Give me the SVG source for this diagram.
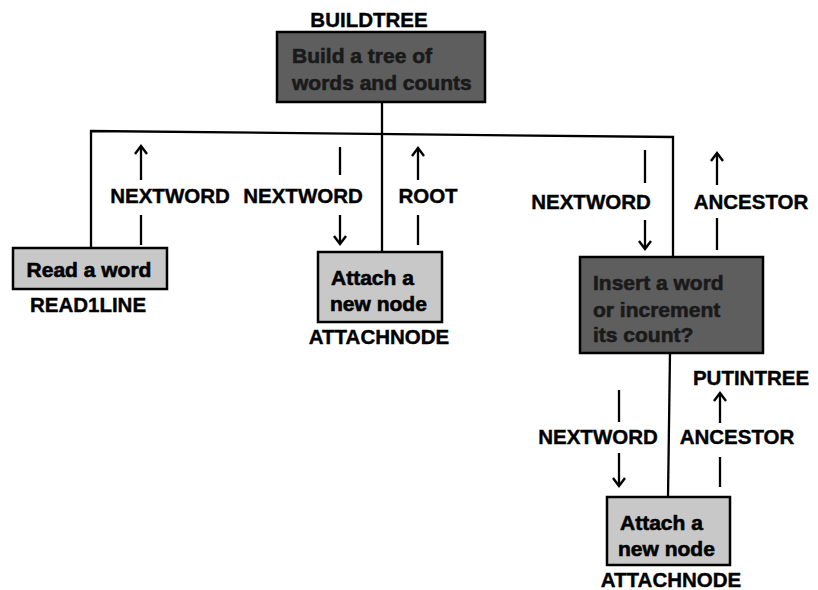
<svg xmlns="http://www.w3.org/2000/svg" width="818" height="590" viewBox="0 0 818 590">
<defs>
<marker id="ah" viewBox="-10 -8 12 16" markerWidth="12" markerHeight="16" refX="0" refY="0" orient="auto" markerUnits="userSpaceOnUse">
<path d="M-8,-6 L0,0 L-8,6" fill="none" stroke="#000" stroke-width="2.4"/>
</marker>
<style>
.lbl{font-family:"Liberation Sans",Arial,sans-serif;font-weight:bold;font-size:20.5px;fill:#000;stroke:#000;stroke-width:0.4}
.bt{font-family:"Liberation Sans",Arial,sans-serif;font-weight:bold;font-size:21px;stroke-width:0.6}
.light rect{fill:#c8c8c8;stroke:#000;stroke-width:2.5}
.dark rect{fill:#5e5e5e;stroke:#000;stroke-width:2.5}
.light .bt{fill:#000;stroke:#000}
.dark .bt{fill:#1a1a1a;stroke:#1a1a1a}
.ln{stroke:#000;stroke-width:2.3;fill:none}
.ar{stroke:#000;stroke-width:2.3;fill:none;marker-end:url(#ah)}
</style>
</defs>
<rect width="818" height="590" fill="#fff"/>
<g id="connectors">
<path class="ln" d="M91,248 L91,131 L673,137 L673,257"/>
<path class="ln" d="M382,102 L382,252"/>
<path class="ln" d="M670,353 L668,497"/>
<line class="ar" x1="141" y1="180" x2="141" y2="146"/>
<line class="ln" x1="141" y1="215" x2="141" y2="245"/>
<line class="ln" x1="340" y1="147" x2="340" y2="175"/>
<line class="ar" x1="340" y1="215" x2="340" y2="244"/>
<line class="ar" x1="418" y1="180" x2="418" y2="148"/>
<line class="ln" x1="418" y1="215" x2="418" y2="245"/>
<line class="ln" x1="645" y1="150" x2="645" y2="183"/>
<line class="ar" x1="645" y1="220" x2="645" y2="249"/>
<line class="ar" x1="717" y1="185" x2="717" y2="153"/>
<line class="ln" x1="717" y1="218" x2="717" y2="250"/>
<line class="ln" x1="619" y1="390" x2="619" y2="422"/>
<line class="ar" x1="619" y1="453" x2="619" y2="486"/>
<line class="ar" x1="720" y1="423" x2="720" y2="393"/>
<line class="ln" x1="720" y1="457" x2="720" y2="487"/>
<text class="lbl" x="170" y="203" text-anchor="middle">NEXTWORD</text>
<text class="lbl" x="303" y="203" text-anchor="middle">NEXTWORD</text>
<text class="lbl" x="428" y="203" text-anchor="middle">ROOT</text>
<text class="lbl" x="591" y="209" text-anchor="middle">NEXTWORD</text>
<text class="lbl" x="751" y="209" text-anchor="middle">ANCESTOR</text>
<text class="lbl" x="598" y="444" text-anchor="middle">NEXTWORD</text>
<text class="lbl" x="737" y="444" text-anchor="middle">ANCESTOR</text>
</g>
<g id="buildtree" class="dark">
<rect x="277" y="32" width="208" height="70"/>
<text class="bt" x="292" y="63">Build a tree of</text>
<text class="bt" x="292" y="90">words and counts</text>
<text class="lbl" x="369" y="27" text-anchor="middle">BUILDTREE</text>
</g>
<g id="read1line" class="light">
<rect x="13" y="248" width="154" height="41"/>
<text class="bt" x="89" y="277" text-anchor="middle">Read a word</text>
<text class="lbl" x="88" y="312" text-anchor="middle">READ1LINE</text>
</g>
<g id="attachnode1" class="light">
<rect x="318" y="252" width="124" height="70"/>
<text class="bt" x="331" y="285">Attach a</text>
<text class="bt" x="330" y="311">new node</text>
<text class="lbl" x="379" y="344" text-anchor="middle">ATTACHNODE</text>
</g>
<g id="putintree" class="dark">
<rect x="580" y="257" width="183" height="96"/>
<text class="bt" x="593" y="290">Insert a word</text>
<text class="bt" x="593" y="317">or increment</text>
<text class="bt" x="593" y="342">its count?</text>
<text class="lbl" x="751" y="385" text-anchor="middle">PUTINTREE</text>
</g>
<g id="attachnode2" class="light">
<rect x="607" y="497" width="123" height="68"/>
<text class="bt" x="620" y="530">Attach a</text>
<text class="bt" x="618" y="556">new node</text>
<text class="lbl" x="671" y="587" text-anchor="middle">ATTACHNODE</text>
</g>
</svg>
